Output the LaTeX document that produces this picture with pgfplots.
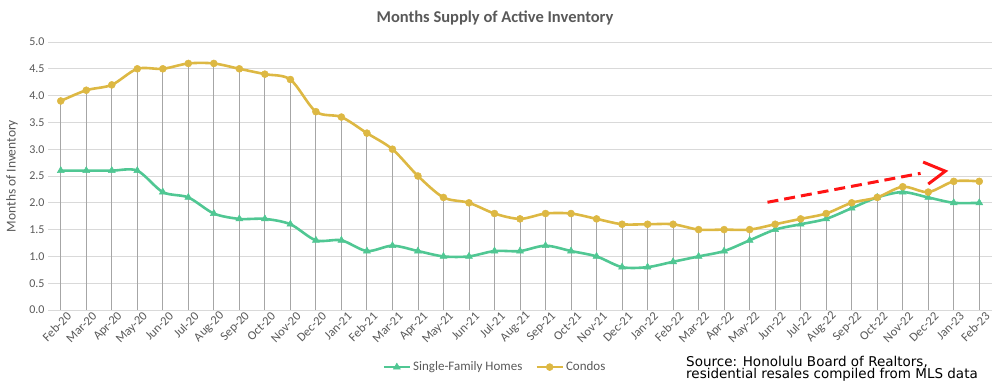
\documentclass[border=0pt]{standalone}
\usepackage{pgfplots}
\pgfplotsset{compat=1.18}
\usepackage{fontspec}
\setmainfont{Carlito}
\newfontfamily\srcfont{DejaVu Sans}
\definecolor{condo}{HTML}{DDB843}
\definecolor{sfh}{HTML}{50C793}
\definecolor{gridc}{HTML}{D9D9D9}
\definecolor{dropc}{HTML}{A6A6A6}
\definecolor{txt}{HTML}{595959}
\definecolor{arr}{HTML}{FF1414}
\pgfplotstableread{
x condo sfh
0 3.9 2.6
1 4.1 2.6
2 4.2 2.6
3 4.5 2.6
4 4.5 2.2
5 4.6 2.1
6 4.6 1.8
7 4.5 1.7
8 4.4 1.7
9 4.3 1.6
10 3.7 1.3
11 3.6 1.3
12 3.3 1.1
13 3.0 1.2
14 2.5 1.1
15 2.1 1.0
16 2.0 1.0
17 1.8 1.1
18 1.7 1.1
19 1.8 1.2
20 1.8 1.1
21 1.7 1.0
22 1.6 0.8
23 1.6 0.8
24 1.6 0.9
25 1.5 1.0
26 1.5 1.1
27 1.5 1.3
28 1.6 1.5
29 1.7 1.6
30 1.8 1.7
31 2.0 1.9
32 2.1 2.1
33 2.3 2.2
34 2.2 2.1
35 2.4 2.0
36 2.4 2.0
}\datatable
\begin{document}
\begin{tikzpicture}
\path[use as bounding box] (0,0) rectangle (1000pt,384pt);
\begin{axis}[
  at={(48pt,74pt)}, anchor=south west,
  scale only axis, width=944pt, height=268pt,
  xmin=-0.5, xmax=36.5, ymin=0, ymax=5,
  ytick={0,0.5,...,5},
  xtick={0,...,36},
  xticklabels={Feb-20,Mar-20,Apr-20,May-20,Jun-20,Jul-20,Aug-20,Sep-20,Oct-20,Nov-20,Dec-20,Jan-21,Feb-21,Mar-21,Apr-21,May-21,Jun-21,Jul-21,Aug-21,Sep-21,Oct-21,Nov-21,Dec-21,Jan-22,Feb-22,Mar-22,Apr-22,May-22,Jun-22,Jul-22,Aug-22,Sep-22,Oct-22,Nov-22,Dec-22,Jan-23,Feb-23},
  x tick label style={rotate=45, anchor=east, font=\fontsize{12.5}{13}\selectfont, text=txt, inner sep=1pt, yshift=-9pt, xshift=4pt},
  y tick label style={font=\fontsize{12}{13}\selectfont, text=txt, /pgf/number format/.cd, fixed, fixed zerofill, precision=1, assume math mode=true},
  ymajorgrids, grid style={gridc, line width=1pt},
  axis line style={draw=none}, major tick length=0pt,
  ylabel={Months of Inventory},
  every axis y label/.style={at={(axis description cs:-0.038,0.5)}, rotate=90, anchor=center, font=\fontsize{13.5}{14}\selectfont, text=txt},
  legend style={at={(0.4735,-0.213)}, anchor=center, draw=none, fill=none, legend columns=2, font=\fontsize{13}{14}\selectfont, text=txt, /tikz/every even column/.append style={column sep=11pt}, inner sep=0pt},
  legend image code/.code={\draw[mark repeat=2, mark phase=2] plot coordinates {(0pt,0pt) (13pt,0pt) (26pt,0pt)};},
  legend cell align=left,
  clip=false,
]
\addplot[ycomb, dropc, line width=0.9pt, no marks, forget plot] table[x=x,y=condo] {\datatable};
\addplot[sfh, line width=2.6pt, smooth, mark=triangle*, mark size=4pt, mark options={solid, line width=0.5pt}] table[x=x,y=sfh] {\datatable};
\addlegendentry{Single-Family Homes}
\addplot[condo, line width=2.6pt, smooth, mark=*, mark size=3.5pt, mark options={solid, line width=0.5pt}] table[x=x,y=condo] {\datatable};
\addlegendentry{Condos}
\draw[arr, line width=3pt, dash pattern=on 11pt off 6pt] (axis cs:27.7,2.01) -- (axis cs:33.7,2.55);
\draw[arr, line width=3pt, line join=miter] (axis cs:33.8,2.76) -- (axis cs:34.67,2.59) -- (axis cs:34.0,2.35);
\end{axis}
\node[font=\fontsize{16.5}{18}\selectfont\bfseries, text=txt] at (495pt,366pt) {Months Supply of Active Inventory};
\node[font=\srcfont\fontsize{13.5}{12}\selectfont, align=left, anchor=north west, inner sep=0pt] at (686pt,28pt) {Source: Honolulu Board of Realtors,\\residential resales compiled from MLS data};
\end{tikzpicture}
\end{document}
